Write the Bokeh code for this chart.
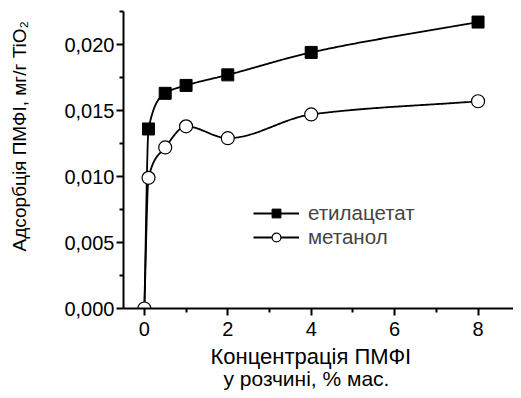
import numpy as np
from bokeh.plotting import figure
from bokeh.models import (FixedTicker, CustomJSTickFormatter, Legend, LegendItem,
                          Range1d, Title)
from bokeh.embed import file_html
from bokeh.resources import INLINE

# --- data ---
conc_eth = [0.0, 0.1, 0.5, 1.0, 2.0, 4.0, 8.0]
ads_eth = [0.0, 0.0136, 0.0163, 0.0169, 0.0177, 0.0194, 0.0217]
conc_met = [0.0, 0.1, 0.5, 1.0, 2.0, 4.0, 8.0]
ads_met = [0.0, 0.0099, 0.0122, 0.0138, 0.0129, 0.0147, 0.0157]
x_ticks = [0, 2, 4, 6, 8]
x_minor = [1, 3, 5, 7]
y_ticks = [0.0, 0.005, 0.010, 0.015, 0.020]
y_minor = [0.0025, 0.0075, 0.0125, 0.0175, 0.0225]
labels = ["етилацетат", "метанол"]
x_label = ["Концентрація ПМФІ", "у розчині, % мас."]
y_label = "Адсорбція ПМФІ, мг/г TiO₂"

FONT = "Liberation Sans"


def pchip(x, y, xs):
    x = np.asarray(x, float); y = np.asarray(y, float)
    h = np.diff(x); d = np.diff(y) / h
    n = len(x); m = np.zeros(n)
    for k in range(1, n - 1):
        if d[k - 1] * d[k] <= 0:
            m[k] = 0
        else:
            w1 = 2 * h[k] + h[k - 1]; w2 = h[k] + 2 * h[k - 1]
            m[k] = (w1 + w2) / (w1 / d[k - 1] + w2 / d[k])
    m[0] = d[0]; m[-1] = d[-1]
    out = np.empty_like(xs)
    idx = np.clip(np.searchsorted(x, xs) - 1, 0, n - 2)
    for i, (xi, k) in enumerate(zip(xs, idx)):
        t = (xi - x[k]) / h[k]
        h00 = 2 * t**3 - 3 * t**2 + 1; h10 = t**3 - 2 * t**2 + t
        h01 = -2 * t**3 + 3 * t**2; h11 = t**3 - t**2
        out[i] = h00 * y[k] + h10 * h[k] * m[k] + h01 * y[k + 1] + h11 * h[k] * m[k + 1]
    return out


xs = np.concatenate([np.linspace(0, 1, 200), np.linspace(1, 8, 200)[1:]])

p = figure(width=513, height=398, output_backend="svg", toolbar_location=None,
           x_range=Range1d(-0.5, 8.85), y_range=Range1d(0.0, 0.0225),
           min_border_left=123, min_border_right=0, min_border_top=11,
           min_border_bottom=90)
p.outline_line_color = None
p.grid.visible = False

l1 = p.line(xs, pchip(conc_eth, ads_eth, xs), line_color="black", line_width=1.8)
s1 = p.scatter(conc_eth[1:], ads_eth[1:], marker="square", size=12,
               fill_color="black", line_color="black")
l2 = p.line(xs, pchip(conc_met, ads_met, xs), line_color="black", line_width=1.8)
s2 = p.scatter(conc_met, ads_met, marker="circle", size=13,
               fill_color="white", line_color="black", line_width=1.2)

for ax in (p.xaxis[0], p.yaxis[0]):
    ax.axis_line_width = 2
    ax.axis_line_color = "black"
    ax.major_tick_line_width = 2
    ax.minor_tick_line_width = 2
    ax.major_tick_in = 0
    ax.major_tick_out = 7
    ax.minor_tick_in = 0
    ax.minor_tick_out = 4
    ax.major_label_text_font = FONT
    ax.major_label_text_font_size = "20px"
    ax.major_label_text_color = "black"

p.xaxis.ticker = FixedTicker(ticks=x_ticks, minor_ticks=x_minor)
p.yaxis.ticker = FixedTicker(ticks=y_ticks, minor_ticks=y_minor)
p.yaxis.formatter = CustomJSTickFormatter(code="return tick.toFixed(3).replace('.', ',');")
p.xaxis.major_label_standoff = 6
p.yaxis.major_label_standoff = 2

# y-axis title: leading no-break spaces lift the visible text above the frame centre
p.yaxis.axis_label = "\u00a0" * 9 + y_label
p.yaxis.axis_label_standoff = 31
p.yaxis.axis_label_text_font = FONT
p.yaxis.axis_label_text_font_size = "19px"
p.yaxis.axis_label_text_font_style = "normal"
p.yaxis.axis_label_text_color = "black"

title_style = dict(text_font=FONT, text_font_style="normal", text_color="black")
p.add_layout(Title(text=x_label[0], align="left", offset=87, standoff=10,
                   vertical_align="top", text_font_size="22px", **title_style),
             "below")
p.add_layout(Title(text=x_label[1], align="left", offset=100, standoff=-18,
                   vertical_align="top", text_font_size="21px", **title_style),
             "below")

legend = Legend(items=[LegendItem(label=labels[0], renderers=[l1, s1]),
                       LegendItem(label=labels[1], renderers=[l2, s2])],
                location=(130, 59), glyph_width=46, glyph_height=22,
                label_height=22, spacing=0, padding=0, margin=0,
                border_line_color=None, background_fill_alpha=0,
                label_text_font=FONT, label_text_font_size="20.5px",
                label_text_font_style="normal", label_standoff=9)
p.add_layout(legend)

open("out.html", "w").write(file_html(p, INLINE))
